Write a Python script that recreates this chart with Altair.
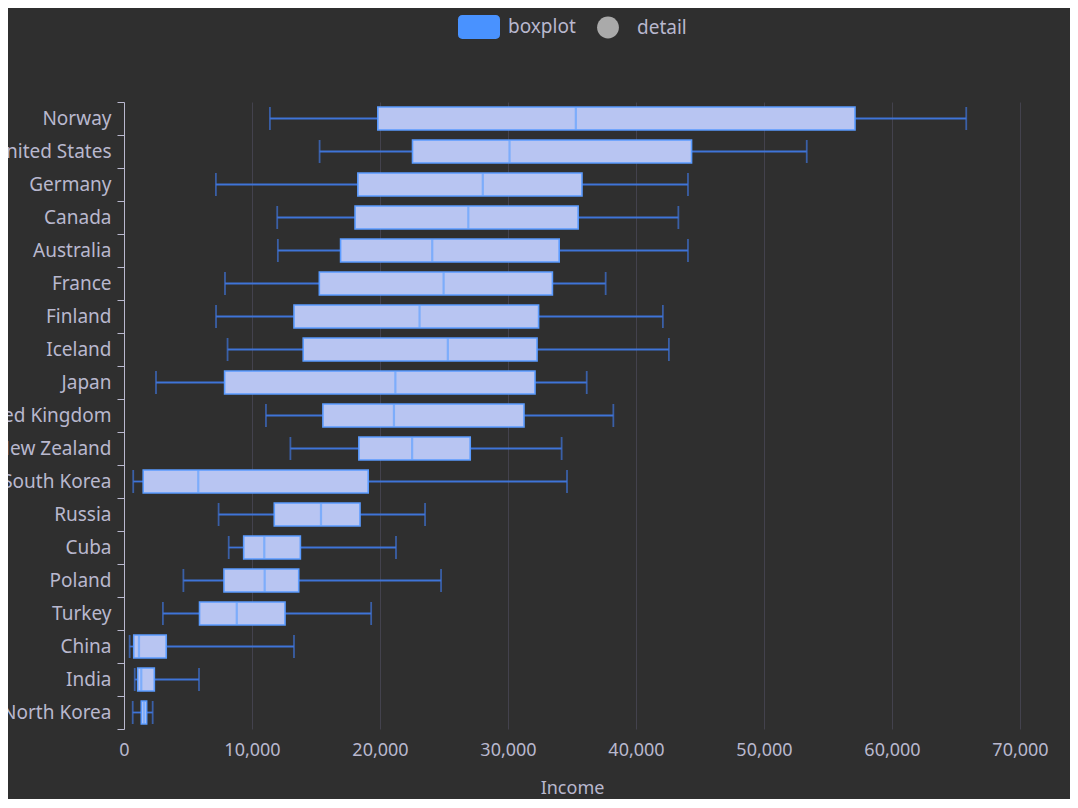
import altair as alt
import pandas as pd

countries = ["Norway", "United States", "Germany", "Canada", "Australia", "France",
             "Finland", "Iceland", "Japan", "United Kingdom", "New Zealand",
             "South Korea", "Russia", "Cuba", "Poland", "Turkey", "China", "India",
             "North Korea"]
mins = [11400, 15280, 7180, 11970, 12020, 7890, 7190, 8090, 2500, 11090, 13000,
        720, 7390, 8180, 4640, 3040, 440, 840, 680]
q1s = [19830, 22540, 18270, 18050, 16920, 15260, 13280, 14000, 7860, 15540, 18350,
       1500, 11740, 9350, 7810, 5900, 760, 1070, 1350]
medians = [35300, 30120, 28030, 26900, 24080, 24970, 23090, 25300, 21200, 21090, 22510,
           5800, 15390, 10960, 10990, 8810, 1170, 1350, 1560]
q3s = [57110, 44340, 35780, 35480, 34000, 33470, 32390, 32270, 32110, 31250, 27050,
       19080, 18440, 13780, 13650, 12580, 3300, 2370, 1770]
maxs = [65800, 53340, 44060, 43310, 44060, 37630, 42100, 42570, 36150, 38230, 34190,
        34610, 23520, 21250, 24770, 19310, 13280, 5860, 2240]
series_names = ["boxplot", "detail"]
x_ticks = [0, 10000, 20000, 30000, 40000, 50000, 60000, 70000]

df = pd.DataFrame({"Country": countries, "min": mins, "Q1": q1s, "median": medians,
                   "Q3": q3s, "max": maxs, "series": "boxplot"})

TXT = "#B9B8CE"
BLUE = "#4992ff"
WHISK = "#3f74d8"
FONT = "Noto Sans"
BOX_H = 23

rect_path = ("M-0.8,-0.57 H0.8 A0.2,0.2 0 0 1 1,-0.37 V0.37 A0.2,0.2 0 0 1 0.8,0.57 "
             "H-0.8 A0.2,0.2 0 0 1 -1,0.37 V-0.37 A0.2,0.2 0 0 1 -0.8,-0.57 Z")
circle_path = "M-0.52,0 A0.52,0.52 0 1 0 0.52,0 A0.52,0.52 0 1 0 -0.52,0 Z"

y_enc = alt.Y("Country:N", sort=countries,
              scale=alt.Scale(paddingInner=0, paddingOuter=0),
              axis=alt.Axis(title=None, tickBand="extent", domainColor=TXT, tickColor=TXT,
                            tickSize=7, labelPadding=6, labelColor=TXT, labelFontSize=19,
                            labelFont=FONT, grid=False, domainWidth=1, tickWidth=1))
x_scale = alt.Scale(domain=[0, 70000], nice=False)
x_enc = alt.X("min:Q", scale=x_scale,
              axis=alt.Axis(title="Income", values=x_ticks, format=",d", domain=False,
                            ticks=False, grid=True, gridColor="#43424d", gridWidth=1,
                            labelColor=TXT, labelFontSize=18, labelFont=FONT,
                            labelFlush=False, labelPadding=12, titleColor=TXT,
                            titleFontSize=18, titleFont=FONT, titleFontWeight="normal",
                            titlePadding=20))

base = alt.Chart(df)

whisk_lo = base.mark_rule(color=WHISK, strokeWidth=1.8).encode(x=x_enc, x2="Q1:Q", y=y_enc)
whisk_hi = base.mark_rule(color=WHISK, strokeWidth=1.8).encode(
    x=alt.X("Q3:Q", scale=x_scale), x2="max:Q", y=y_enc)
cap_lo = base.mark_tick(color=WHISK, size=BOX_H, thickness=1.8).encode(
    x=alt.X("min:Q", scale=x_scale), y=y_enc)
cap_hi = base.mark_tick(color=WHISK, size=BOX_H, thickness=1.8).encode(
    x=alt.X("max:Q", scale=x_scale), y=y_enc)
box = base.mark_bar(fill="#b8c5f2", stroke="#5a9bff", strokeWidth=1.6, size=BOX_H).encode(
    x=alt.X("Q1:Q", scale=x_scale), x2="Q3:Q", y=y_enc)
med = base.mark_tick(color="#64a2ff", size=BOX_H, thickness=2.2).encode(
    x=alt.X("median:Q", scale=x_scale), y=y_enc)

leg = alt.Legend(title=None, orient="none", direction="horizontal",
                 legendX=334, legendY=-96, symbolSize=1764,
                 symbolStrokeWidth=0, symbolOpacity=1,
                 labelFontSize=19, labelColor=TXT, labelFont=FONT,
                 labelOffset=8, columnPadding=11, padding=0)

legend_layer = base.mark_point(filled=True, opacity=0).encode(
    x=alt.X("median:Q", scale=x_scale), y=y_enc,
    color=alt.Color("series:N", scale=alt.Scale(domain=series_names, range=[BLUE, "#aaaaaa"]),
                    legend=leg),
    shape=alt.Shape("series:N", scale=alt.Scale(domain=series_names,
                                               range=[rect_path, circle_path]),
                    legend=leg),
)

chart = alt.layer(whisk_lo, whisk_hi, cap_lo, cap_hi, box, med, legend_layer).properties(
    width=896, height=627,
    padding={"left": 116, "top": 94, "right": 50, "bottom": 70},
    autosize=alt.AutoSizeParams(type="none"),
    background="#2f2f2f",
).configure_view(stroke="transparent")

chart.save("out.html", embed_options={"renderer": "svg", "actions": False})
